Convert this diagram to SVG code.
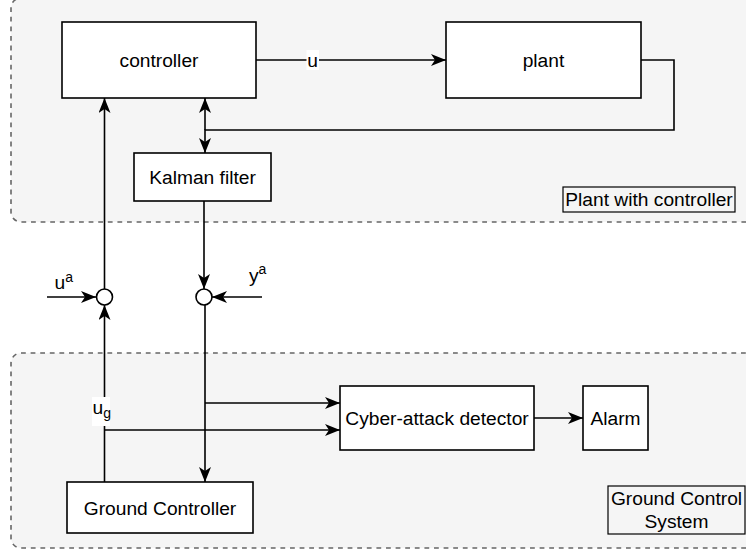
<svg xmlns="http://www.w3.org/2000/svg" width="746" height="552" viewBox="0 0 746 552">
  <style>
    .zone { fill: #f5f5f5; stroke: #666666; stroke-width: 1.6; stroke-dasharray: 4.8 4.8; }
    .box { fill: #ffffff; stroke: #000000; stroke-width: 1.6; }
    .tag { fill: none; stroke: #000000; stroke-width: 1.2; }
    .sum { fill: #ffffff; stroke: #000000; stroke-width: 1.6; }
    .wire { fill: none; stroke: #000000; stroke-width: 1.6; }
    .arr { marker-end: url(#head); }
    text { font-family: "Liberation Sans", Arial, Helvetica, sans-serif; font-size: 19.2px; fill: #000000; }
    .mid { text-anchor: middle; }
  </style>
  <defs>
    <marker id="head" markerUnits="userSpaceOnUse" markerWidth="16" markerHeight="13" refX="15" refY="6" orient="auto">
      <path d="M0,0 L15,6 L0,12 L4,6 Z" fill="#000000"/>
    </marker>
  </defs>

  <!-- containers -->
  <g id="plant-with-controller">
    <rect class="zone" x="11" y="-2" width="745" height="224" rx="10" ry="10"/>
    <rect class="tag" x="563" y="187" width="172" height="25"/>
    <text class="mid" x="649" y="205.5">Plant with controller</text>
  </g>
  <g id="ground-control-system">
    <rect class="zone" x="11" y="353" width="745" height="195" rx="10" ry="10"/>
    <rect class="tag" x="608" y="486" width="137" height="48"/>
    <text class="mid" x="676.5" y="505">Ground Control</text>
    <text class="mid" x="676.5" y="528">System</text>
  </g>

  <!-- connectors -->
  <g id="connectors">
    <path class="wire arr" d="M256,60 L446,60"/>
    <path class="wire arr" d="M641,60 L674,60 L674,130 L205,130 L205,153"/>
    <path class="wire arr" d="M205,130 L205,98"/>
    <path class="wire arr" d="M104.5,289 L104.5,98"/>
    <path class="wire arr" d="M204,201 L204,289"/>
    <path class="wire arr" d="M47,297 L96,297"/>
    <path class="wire arr" d="M262,297 L212,297"/>
    <path class="wire arr" d="M205,305 L205,482"/>
    <path class="wire arr" d="M205,403 L340,403"/>
    <path class="wire arr" d="M104.5,482 L104.5,305"/>
    <path class="wire arr" d="M104.5,430 L340,430"/>
    <path class="wire arr" d="M534,418 L583,418"/>

    <!-- edge labels -->
    <rect x="306.5" y="50" width="12.5" height="20" fill="#ffffff"/>
    <text class="mid" x="312.7" y="66.5">u</text>
    <rect x="92" y="397" width="18" height="29" fill="#ffffff"/>
    <text x="92.5" y="414">u<tspan font-size="14" dy="3.5">g</tspan></text>
    <text x="54.5" y="289">u<tspan font-size="14" dy="-7.5">a</tspan></text>
    <text x="249" y="281.5">y<tspan font-size="14" dy="-8">a</tspan></text>
  </g>

  <!-- nodes -->
  <g id="controller">
    <rect class="box" x="62" y="22" width="194" height="76"/>
    <text class="mid" x="159" y="67">controller</text>
  </g>
  <g id="plant">
    <rect class="box" x="446" y="22" width="195" height="76"/>
    <text class="mid" x="543.5" y="67">plant</text>
  </g>
  <g id="kalman-filter">
    <rect class="box" x="134" y="153" width="137" height="48"/>
    <text class="mid" x="202.5" y="184">Kalman filter</text>
  </g>
  <g id="sum-input">
    <circle class="sum" cx="104.5" cy="297" r="8"/>
  </g>
  <g id="sum-output">
    <circle class="sum" cx="204" cy="297" r="8"/>
  </g>
  <g id="cyber-attack-detector">
    <rect class="box" x="340" y="386" width="194" height="64"/>
    <text class="mid" x="437" y="425">Cyber-attack detector</text>
  </g>
  <g id="alarm">
    <rect class="box" x="583" y="386" width="65" height="64"/>
    <text class="mid" x="615.5" y="425">Alarm</text>
  </g>
  <g id="ground-controller">
    <rect class="box" x="67" y="482" width="186" height="51"/>
    <text class="mid" x="160" y="514.5">Ground Controller</text>
  </g>
</svg>
